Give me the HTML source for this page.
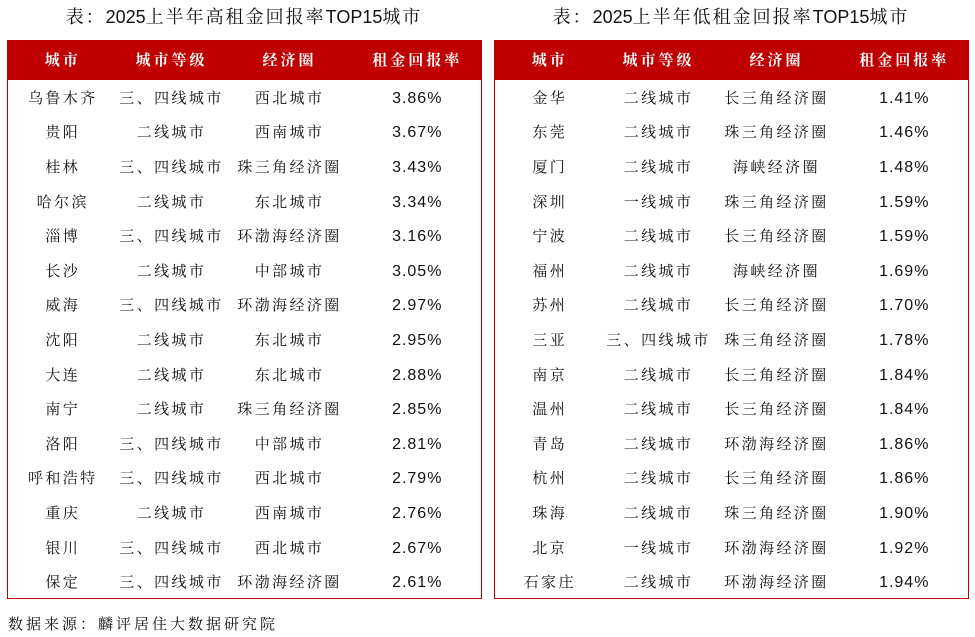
<!DOCTYPE html>
<html><head><meta charset="utf-8"><style>
body{margin:0;width:975px;height:637px;background:#fff;position:relative;overflow:hidden;font-family:"Liberation Serif","Noto Serif CJK SC",serif;color:#111}
.title{position:absolute;top:3px;font-size:18px;text-align:center;width:474px;letter-spacing:2px}
table{position:absolute;top:40px;border-collapse:collapse;border:1.5px solid #c00000;table-layout:fixed;width:474px}
th{background:#c00000;color:#fff;height:39px;line-height:20px;font-size:15px;font-weight:bold;padding:0;letter-spacing:3px}
tr.r{height:34.6px}
td{padding:3px 0 0 0;text-align:center;font-size:15px;line-height:18px;letter-spacing:2.4px;white-space:nowrap;overflow:hidden}
td.n{font-family:"Liberation Sans","DejaVu Sans",sans-serif;font-size:16px;letter-spacing:1px}
.src{position:absolute;left:8px;top:613px;font-size:15px;letter-spacing:3px}
</style></head><body>
<div class="title" style="left:7px">表：<span style="font-family:'Liberation Sans',sans-serif;letter-spacing:0">2025</span>上半年高租金回报率<span style="font-family:'Liberation Sans',sans-serif;letter-spacing:0">TOP15</span>城市</div>
<div class="title" style="left:494px">表：<span style="font-family:'Liberation Sans',sans-serif;letter-spacing:0">2025</span>上半年低租金回报率<span style="font-family:'Liberation Sans',sans-serif;letter-spacing:0">TOP15</span>城市</div>
<table style="left:7px"><colgroup><col style="width:110px"><col style="width:108px"><col style="width:128px"><col style="width:128px"></colgroup>
<tr><th>城市</th><th>城市等级</th><th>经济圈</th><th>租金回报率</th></tr>
<tr class="r"><td>乌鲁木齐</td><td>三、四线城市</td><td>西北城市</td><td class="n">3.86%</td></tr>
<tr class="r"><td>贵阳</td><td>二线城市</td><td>西南城市</td><td class="n">3.67%</td></tr>
<tr class="r"><td>桂林</td><td>三、四线城市</td><td>珠三角经济圈</td><td class="n">3.43%</td></tr>
<tr class="r"><td>哈尔滨</td><td>二线城市</td><td>东北城市</td><td class="n">3.34%</td></tr>
<tr class="r"><td>淄博</td><td>三、四线城市</td><td>环渤海经济圈</td><td class="n">3.16%</td></tr>
<tr class="r"><td>长沙</td><td>二线城市</td><td>中部城市</td><td class="n">3.05%</td></tr>
<tr class="r"><td>威海</td><td>三、四线城市</td><td>环渤海经济圈</td><td class="n">2.97%</td></tr>
<tr class="r"><td>沈阳</td><td>二线城市</td><td>东北城市</td><td class="n">2.95%</td></tr>
<tr class="r"><td>大连</td><td>二线城市</td><td>东北城市</td><td class="n">2.88%</td></tr>
<tr class="r"><td>南宁</td><td>二线城市</td><td>珠三角经济圈</td><td class="n">2.85%</td></tr>
<tr class="r"><td>洛阳</td><td>三、四线城市</td><td>中部城市</td><td class="n">2.81%</td></tr>
<tr class="r"><td>呼和浩特</td><td>三、四线城市</td><td>西北城市</td><td class="n">2.79%</td></tr>
<tr class="r"><td>重庆</td><td>二线城市</td><td>西南城市</td><td class="n">2.76%</td></tr>
<tr class="r"><td>银川</td><td>三、四线城市</td><td>西北城市</td><td class="n">2.67%</td></tr>
<tr class="r"><td>保定</td><td>三、四线城市</td><td>环渤海经济圈</td><td class="n">2.61%</td></tr>
</table>
<table style="left:494px"><colgroup><col style="width:110px"><col style="width:108px"><col style="width:128px"><col style="width:128px"></colgroup>
<tr><th>城市</th><th>城市等级</th><th>经济圈</th><th>租金回报率</th></tr>
<tr class="r"><td>金华</td><td>二线城市</td><td>长三角经济圈</td><td class="n">1.41%</td></tr>
<tr class="r"><td>东莞</td><td>二线城市</td><td>珠三角经济圈</td><td class="n">1.46%</td></tr>
<tr class="r"><td>厦门</td><td>二线城市</td><td>海峡经济圈</td><td class="n">1.48%</td></tr>
<tr class="r"><td>深圳</td><td>一线城市</td><td>珠三角经济圈</td><td class="n">1.59%</td></tr>
<tr class="r"><td>宁波</td><td>二线城市</td><td>长三角经济圈</td><td class="n">1.59%</td></tr>
<tr class="r"><td>福州</td><td>二线城市</td><td>海峡经济圈</td><td class="n">1.69%</td></tr>
<tr class="r"><td>苏州</td><td>二线城市</td><td>长三角经济圈</td><td class="n">1.70%</td></tr>
<tr class="r"><td>三亚</td><td>三、四线城市</td><td>珠三角经济圈</td><td class="n">1.78%</td></tr>
<tr class="r"><td>南京</td><td>二线城市</td><td>长三角经济圈</td><td class="n">1.84%</td></tr>
<tr class="r"><td>温州</td><td>二线城市</td><td>长三角经济圈</td><td class="n">1.84%</td></tr>
<tr class="r"><td>青岛</td><td>二线城市</td><td>环渤海经济圈</td><td class="n">1.86%</td></tr>
<tr class="r"><td>杭州</td><td>二线城市</td><td>长三角经济圈</td><td class="n">1.86%</td></tr>
<tr class="r"><td>珠海</td><td>二线城市</td><td>珠三角经济圈</td><td class="n">1.90%</td></tr>
<tr class="r"><td>北京</td><td>一线城市</td><td>环渤海经济圈</td><td class="n">1.92%</td></tr>
<tr class="r"><td>石家庄</td><td>二线城市</td><td>环渤海经济圈</td><td class="n">1.94%</td></tr>
</table>
<div class="src">数据来源：麟评居住大数据研究院</div>
</body></html>
